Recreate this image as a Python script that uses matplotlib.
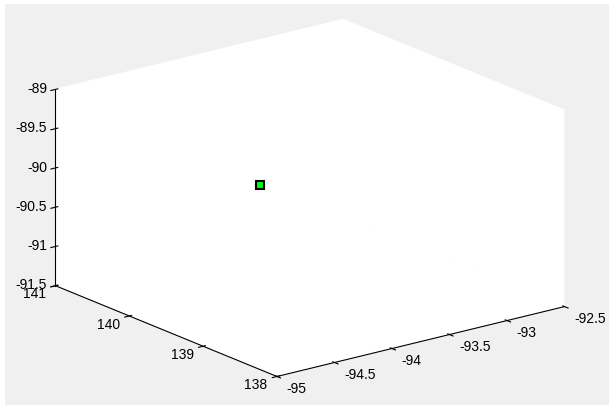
import matplotlib
matplotlib.use('Agg')
import matplotlib.pyplot as plt
from matplotlib.patches import Rectangle

plt.rcParams['font.family'] = ['Liberation Sans', 'DejaVu Sans']

# the single plotted point
px = [-93.9]
py = [139.95]
pz = [-90.2]

xticks = [-95, -94.5, -94, -93.5, -93, -92.5]
yticks = [138, 139, 140, 141]
zticks = [-91.5, -91, -90.5, -90, -89.5, -89]

fig = plt.figure(figsize=(6.09, 4.07), dpi=100)
fig.patch.set_facecolor('white')
# grey window area with the thin white border of the screenshot
fig.patches.append(Rectangle((5 / 609, 2 / 407), 1, 1 - 6 / 407,
                             transform=fig.transFigure, facecolor='#f0f0f0',
                             edgecolor='none', zorder=-10))
ax = fig.add_axes([0, 0, 1, 1], projection='3d', proj_type='ortho')
ax.patch.set_visible(False)
ax.view_init(elev=18.4, azim=-127.6)
ax.set_box_aspect((1, 1, 0.57), zoom=1.32)

ax.plot(px, py, pz, 's', mfc='#00ff00', mec='black', ms=6, mew=1.5)

ax.set_xlim(-95, -92.5)
ax.set_ylim(138, 141)
ax.set_zlim(-91.5, -89)
ax.set_xticks(xticks)
ax.set_yticks(yticks)
ax.set_zticks(zticks)
ax.set_xticklabels([f'{t:g}' for t in xticks], ha='left', va='center')
ax.set_yticklabels([f'{t:g}' for t in yticks], ha='right', va='center')
ax.set_zticklabels([f'{t:g}' for t in zticks], ha='right', va='center')
ax.grid(False)
for a in (ax.xaxis, ax.yaxis, ax.zaxis):
    a.set_pane_color((1, 1, 1, 1))
    a.pane.set_edgecolor('white')
    a.line.set_color('black')
    a.line.set_linewidth(0.8)
ax.tick_params(labelsize=10, colors='black')
ax.tick_params(axis='x', pad=-1.5)
ax.tick_params(axis='y', pad=-3)
ax.tick_params(axis='z', pad=-5.5)

fig.savefig('out.png', dpi=100, facecolor=fig.get_facecolor())
